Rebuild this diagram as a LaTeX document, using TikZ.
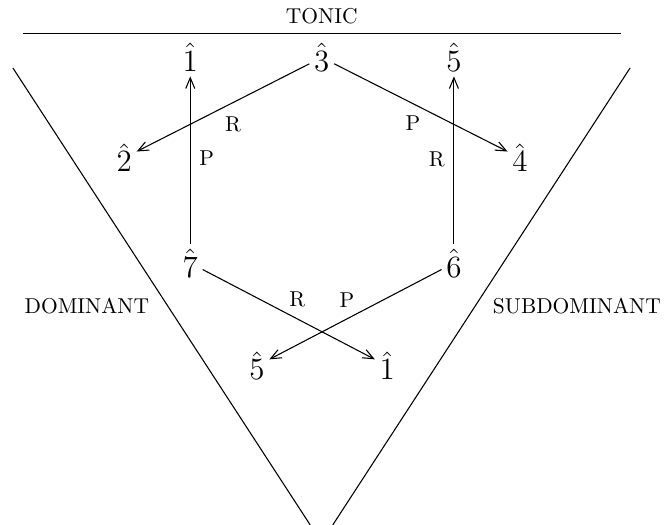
\documentclass[tikz,border=0pt]{standalone}
\usepackage{amsmath, amssymb}
\usetikzlibrary{arrows.meta, positioning}

\begin{document}
\begin{tikzpicture}[
  deg/.style={anchor=base, inner sep=2pt, font=\Large},
  lbl/.style={inner sep=1pt},
  e/.style={-{Straight Barb[length=5pt, width=4.2pt]}},
  line width=0.5pt,
  scale=1.0]
  \useasboundingbox (0,0) rectangle (10.87,8.58);
  % regions
  \node[lbl] (tonic) at (5.26,8.31) {TONIC};
  \node[lbl] (dom) at (1.42,3.58) {DOMINANT};
  \node[lbl] (subdom) at (9.43,3.58) {SUBDOMINANT};
  \coordinate (tl) at (0.38,8.03);
  \coordinate (tr) at (10.15,8.03);
  \coordinate (vl) at (0.21,7.47);
  \coordinate (vr) at (10.30,7.47);
  \coordinate (bl) at (5.07,0);
  \coordinate (br) at (5.44,0);
  \draw (tl) -- (tr);
  \draw (vl) -- (bl);
  \draw (vr) -- (br);
  % scale degrees
  \node[deg] (one)   at (3.11,7.41) {$\hat{1}$};
  \node[deg] (three) at (5.26,7.41) {$\hat{3}$};
  \node[deg] (five)  at (7.42,7.41) {$\hat{5}$};
  \node[deg] (two)   at (2.03,5.77) {$\hat{2}$};
  \node[deg] (four)  at (8.50,5.77) {$\hat{4}$};
  \node[deg] (seven) at (3.11,4.05) {$\hat{7}$};
  \node[deg] (six)   at (7.42,4.05) {$\hat{6}$};
  \node[deg] (fiveb) at (4.20,2.37) {$\hat{5}$};
  \node[deg] (oneb)  at (6.33,2.37) {$\hat{1}$};
  \draw[e] (seven) -- (one);
  \draw[e] (three) -- (two);
  \draw[e] (three) -- (four);
  \draw[e] (six) -- (five);
  \draw[e] (seven) -- (oneb);
  \draw[e] (six) -- (fiveb);
  % transformations
  \node[lbl] (r32) at (3.81,6.54) {R};
  \node[lbl] (p71) at (3.38,6.00) {P};
  \node[lbl] (p34) at (6.75,6.57) {P};
  \node[lbl] (r65) at (7.14,5.98) {R};
  \node[lbl] (r71) at (4.86,3.68) {R};
  \node[lbl] (p65) at (5.67,3.68) {P};
\end{tikzpicture}
\end{document}
